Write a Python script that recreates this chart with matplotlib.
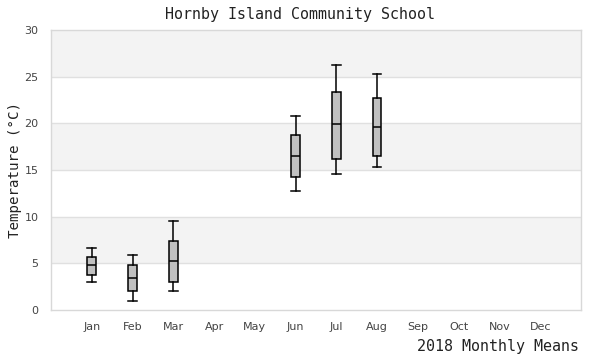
import matplotlib
matplotlib.use("Agg")
import matplotlib.pyplot as plt

months = ["Jan", "Feb", "Mar", "Apr", "May", "Jun", "Jul", "Aug", "Sep", "Oct", "Nov", "Dec"]
box_months = ["Jan", "Feb", "Mar", "Jun", "Jul", "Aug"]
whis_low = [3.0, 1.0, 2.0, 12.8, 14.6, 15.3]
q1 = [3.7, 2.0, 3.0, 14.2, 16.2, 16.5]
median = [4.8, 3.4, 5.2, 16.5, 19.9, 19.65]
q3 = [5.7, 4.8, 7.35, 18.8, 23.4, 22.75]
whis_high = [6.6, 5.85, 9.5, 20.8, 26.2, 25.3]
y_ticks = [0, 5, 10, 15, 20, 25, 30]

fig = plt.figure(figsize=(6, 3.6), dpi=100)
ax = fig.add_axes([51/600, 50/360, 530/600, 280/360])

# alternating bands
for i in range(len(y_ticks) - 1):
    if i % 2 == 1:
        ax.axhspan(y_ticks[i], y_ticks[i+1], color="#f3f3f3", zorder=0, lw=0)
for t in y_ticks[1:-1]:
    ax.axhline(t, color="#e0e0e0", lw=1, zorder=1)

stats = []
for i, m in enumerate(box_months):
    stats.append(dict(whislo=whis_low[i], q1=q1[i], med=median[i], q3=q3[i],
                      whishi=whis_high[i], fliers=[], label=m))
positions = [months.index(m) + 1 for m in box_months]
ax.bxp(stats, positions=positions, widths=0.21, patch_artist=True, showfliers=False,
       boxprops=dict(facecolor="#c0c0c0", edgecolor="black", linewidth=1.1),
       medianprops=dict(color="black", linewidth=1.1),
       whiskerprops=dict(color="black", linewidth=1.1),
       capprops=dict(color="black", linewidth=1.1), capwidths=0.21,
       zorder=3)

ax.set_xlim(0, 13)
ax.set_ylim(0, 30)
ax.set_xticks(range(1, 13))
ax.set_xticklabels(months)
ax.set_yticks(y_ticks)
ax.tick_params(length=0, labelsize=8, colors="#444444", pad=9)
ax.tick_params(axis="y", pad=9)
for s in ax.spines.values():
    s.set_color("#d8d8d8")
    s.set_linewidth(1)

fig.text(0.5, 1 - 15/360, "Hornby Island Community School", ha="center", va="center",
         family="DejaVu Sans Mono", fontsize=10.8, color="#222222")
fig.text(15/600, 1 - 170/360, "Temperature (°C)", rotation=90, ha="center", va="center",
         family="DejaVu Sans Mono", fontsize=10.2, color="#222222")
fig.text(579/600, 1 - 347/360, "2018 Monthly Means", ha="right", va="center",
         family="DejaVu Sans Mono", fontsize=10.8, color="#222222")

fig.savefig("out.png", dpi=100)
